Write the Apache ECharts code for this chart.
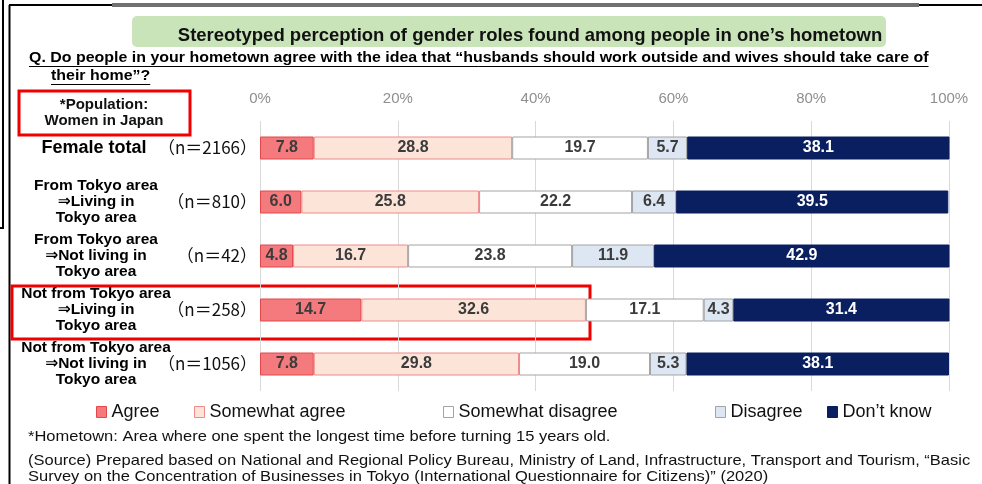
<!DOCTYPE html>
<html>
<head>
<meta charset="utf-8">
<script src="https://cdn.jsdelivr.net/npm/echarts@6/dist/echarts.min.js"></script>
<style>
  html, body { margin: 0; padding: 0; background: #fff; }
  #chart { width: 982px; height: 484px; }
</style>
</head>
<body>
<div id="chart"></div>
<script>
// 回答者グループ
const categories = [
  'Female total',
  'From Tokyo area\n⇒Living in\nTokyo area',
  'From Tokyo area\n⇒Not living in\nTokyo area',
  'Not from Tokyo area\n⇒Living in\nTokyo area',
  'Not from Tokyo area\n⇒Not living in\nTokyo area'
];
const sampleSizes = ['（n＝2166）', '（n＝810）', '（n＝42）', '（n＝258）', '（n＝1056）'];

const agree = [7.8, 6.0, 4.8, 14.7, 7.8];
const somewhatAgree = [28.8, 25.8, 16.7, 32.6, 29.8];
const somewhatDisagree = [19.7, 22.2, 23.8, 17.1, 19.0];
const disagree = [5.7, 6.4, 11.9, 4.3, 5.3];
const dontKnow = [38.1, 39.5, 42.9, 31.4, 38.1];

const xTicks = [0, 20, 40, 60, 80, 100];

const FONT = '"Liberation Sans", Arial, sans-serif';
const NAME_FONT = '"Liberation Sans", "DejaVu Sans", sans-serif';

const seriesDefs = [
  { name: 'Agree', data: agree, color: '#F47A7D', border: '#E2474B', text: '#3b3b3b' },
  { name: 'Somewhat agree', data: somewhatAgree, color: '#FCE4D8', border: '#EE8A8A', text: '#3b3b3b' },
  { name: 'Somewhat disagree', data: somewhatDisagree, color: '#FFFFFF', border: '#A3A3A3', text: '#3b3b3b' },
  { name: 'Disagree', data: disagree, color: '#DDE7F3', border: '#A3A3A3', text: '#3b3b3b' },
  { name: "Don’t know", data: dontKnow, color: '#0A1F5F', border: '#0A1F5F', text: '#ffffff' }
];
const legendLeft = [91, 189, 438, 710, 822];

// テキスト幅の計測（下線用）
const measureCtx = document.createElement('canvas').getContext('2d');
function textWidth(str, font) {
  measureCtx.font = font;
  return measureCtx.measureText(str).width;
}

const chart = echarts.init(document.getElementById('chart'));

const q1 = 'Q. Do people in your hometown agree with the idea that “husbands should work outside and wives should take care of';
const q2 = 'their home”?';
const qFont = 'bold 14.5px ' + FONT;
const qScale = 1.1;
const q1w = textWidth(q1, qFont) * qScale;
const q2w = textWidth(q2, qFont) * qScale;
const noteFont = '15px ' + FONT;
const noteScale = 1.1;

// 左側ラベル用のカテゴリ軸（表示内容だけ変える）
function labelAxis(margin, align, labelOpts, formatter) {
  return {
    type: 'category',
    data: categories,
    inverse: true,
    position: 'left',
    axisLine: { show: false },
    axisTick: { show: false },
    axisLabel: Object.assign({ margin: margin, align: align, formatter: formatter }, labelOpts)
  };
}

const option = {
  animation: false,
  grid: { left: 260, right: 33, top: 121, bottom: 93 },
  xAxis: {
    type: 'value',
    position: 'top',
    min: 0,
    max: 100,
    interval: 20,
    axisLine: { show: false },
    axisTick: { show: false },
    axisLabel: {
      margin: 15,
      color: '#8f8f8f',
      fontSize: 15,
      fontFamily: FONT,
      formatter: (v) => (xTicks.includes(v) ? v + '%' : '')
    },
    splitLine: { lineStyle: { color: '#d9d9d9', width: 1 } }
  },
  yAxis: [
    labelAxis(164, 'center',
      { fontSize: 15.5, fontWeight: 'bold', fontFamily: NAME_FONT, color: '#000', lineHeight: 16 },
      (v, i) => (i === 0 ? '' : v)),
    labelAxis(166, 'center',
      { fontSize: 18, fontWeight: 'bold', fontFamily: FONT, color: '#000' },
      (v, i) => (i === 0 ? v : '')),
    labelAxis(3, 'right',
      { fontSize: 17, fontFamily: '"Noto Sans CJK JP", sans-serif', color: '#111' },
      (v, i) => sampleSizes[i])
  ],
  legend: seriesDefs.map((s, i) => ({
    data: [{ name: s.name, icon: 'rect', itemStyle: { color: s.color, borderColor: s.border, borderWidth: 1 } }],
    left: legendLeft[i],
    top: 398,
    itemWidth: 10,
    itemHeight: 11,
    textStyle: { fontSize: 18, fontFamily: FONT, color: '#111' },
    selectedMode: false
  })),
  series: seriesDefs.map((s) => ({
    name: s.name,
    type: 'bar',
    stack: 'total',
    yAxisIndex: 0,
    barWidth: 23,
    data: s.data,
    itemStyle: { color: s.color, borderColor: s.border, borderWidth: 1 },
    label: {
      show: true,
      position: 'inside',
      color: s.text,
      fontSize: 16,
      fontWeight: 'bold',
      fontFamily: FONT,
      formatter: (p) => p.value.toFixed(1)
    }
  })),
  graphic: [
    // 枠線
    { type: 'line', shape: { x1: 3, y1: 0, x2: 3, y2: 228 }, style: { stroke: '#000', lineWidth: 2 } },
    { type: 'line', shape: { x1: 0, y1: 228, x2: 4, y2: 228 }, style: { stroke: '#000', lineWidth: 2 } },
    { type: 'line', shape: { x1: 9.5, y1: 5, x2: 9.5, y2: 484 }, style: { stroke: '#000', lineWidth: 2 } },
    { type: 'line', shape: { x1: 9, y1: 5, x2: 112, y2: 5 }, style: { stroke: '#000', lineWidth: 2 } },
    { type: 'line', shape: { x1: 112, y1: 5, x2: 919, y2: 5 }, style: { stroke: '#707070', lineWidth: 4 } },
    { type: 'line', shape: { x1: 919, y1: 5, x2: 982, y2: 5 }, style: { stroke: '#000', lineWidth: 2 } },
    // タイトル
    { type: 'rect', shape: { x: 132, y: 16, width: 754, height: 31, r: 5 }, style: { fill: '#C9E4B9' } },
    {
      type: 'text', x: 530, y: 36,
      style: { text: 'Stereotyped perception of gender roles found among people in one’s hometown',
        font: 'bold 18.5px ' + FONT, fill: '#111', textAlign: 'center', textVerticalAlign: 'middle' }
    },
    // 設問
    { type: 'text', x: 29, y: 58, scaleX: qScale, style: { text: q1, font: qFont, fill: '#000', textVerticalAlign: 'middle' } },
    { type: 'line', shape: { x1: 29, y1: 66.5, x2: 29 + q1w, y2: 66.5 }, style: { stroke: '#000', lineWidth: 1 } },
    { type: 'text', x: 51, y: 76, scaleX: qScale, style: { text: q2, font: qFont, fill: '#000', textVerticalAlign: 'middle' } },
    { type: 'line', shape: { x1: 51, y1: 84.5, x2: 51 + q2w, y2: 84.5 }, style: { stroke: '#000', lineWidth: 1 } },
    // 母集団
    { type: 'rect', shape: { x: 19, y: 91, width: 171, height: 44 }, style: { fill: 'none', stroke: '#F00000', lineWidth: 3 } },
    {
      type: 'text', x: 104, y: 113,
      style: { text: '*Population:\nWomen in Japan', font: 'bold 15px ' + FONT, lineHeight: 16,
        fill: '#111', textAlign: 'center', textVerticalAlign: 'middle' }
    },
    // 強調枠
    { type: 'rect', shape: { x: 12, y: 286, width: 578, height: 53 }, style: { fill: 'none', stroke: '#F00000', lineWidth: 3 } },
    // 注記
    {
      type: 'text', x: 28, y: 437, scaleX: noteScale,
      style: { text: '*Hometown: Area where one spent the longest time before turning 15 years old.',
        font: noteFont, fill: '#111', textVerticalAlign: 'middle' }
    },
    {
      type: 'text', x: 28, y: 461, scaleX: noteScale,
      style: { text: '(Source) Prepared based on National and Regional Policy Bureau, Ministry of Land, Infrastructure, Transport and Tourism, “Basic',
        font: noteFont, fill: '#111', textVerticalAlign: 'middle' }
    },
    {
      type: 'text', x: 28, y: 477, scaleX: noteScale,
      style: { text: 'Survey on the Concentration of Businesses in Tokyo (International Questionnaire for Citizens)” (2020)',
        font: noteFont, fill: '#111', textVerticalAlign: 'middle' }
    }
  ]
};

chart.setOption(option);

window.addEventListener('resize', function () {
  chart.resize();
});
</script>
</body>
</html>
